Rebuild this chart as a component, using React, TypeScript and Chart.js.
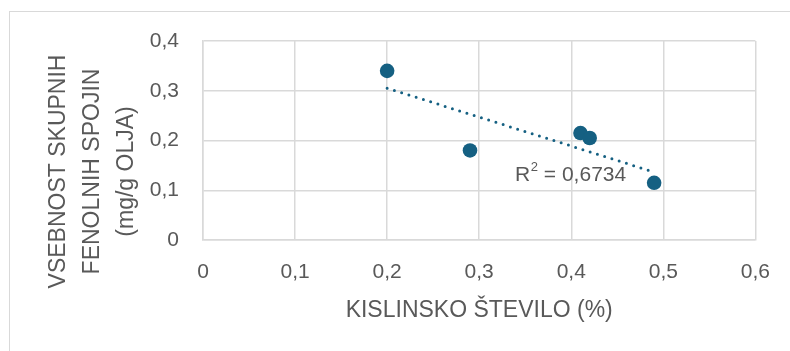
import React, { useEffect, useRef } from "react";
import { Chart, registerables } from "chart.js";

Chart.register(...registerables);

// Data
const acidNumber: number[] = [0.2, 0.29, 0.41, 0.42, 0.49];
const phenolContent: number[] = [0.34, 0.18, 0.215, 0.205, 0.115];
const xTicks: number[] = [0, 0.1, 0.2, 0.3, 0.4, 0.5, 0.6];
const yTicks: number[] = [0, 0.1, 0.2, 0.3, 0.4];
const xTitle = "KISLINSKO ŠTEVILO (%)";
const yTitleLines: string[] = ["VSEBNOST SKUPNIH", "FENOLNIH SPOJIN", "(mg/g OLJA)"];
const r2Label = "0,6734";

const MARK = "#156082";
const TEXT = "#595959";
const GRID = "#d9d9d9";
const FONT = "'Liberation Sans', Arial, sans-serif";

function fmt(v: number): string {
  return String(Math.round(v * 10) / 10).replace(".", ",");
}

function regression(xs: number[], ys: number[]) {
  const n = xs.length;
  const mx = xs.reduce((a, b) => a + b, 0) / n;
  const my = ys.reduce((a, b) => a + b, 0) / n;
  let sxy = 0, sxx = 0;
  for (let i = 0; i < n; i++) {
    sxy += (xs[i] - mx) * (ys[i] - my);
    sxx += (xs[i] - mx) ** 2;
  }
  const slope = sxy / sxx;
  return { slope, intercept: my - slope * mx };
}

export default function App() {
  const ref = useRef<HTMLCanvasElement | null>(null);

  useEffect(() => {
    if (!ref.current) return;
    const { slope, intercept } = regression(acidNumber, phenolContent);
    const x0 = Math.min(...acidNumber);
    const x1 = Math.max(...acidNumber);
    const trend = [
      { x: x0, y: intercept + slope * x0 },
      { x: x1, y: intercept + slope * x1 },
    ];

    const textPlugin = {
      id: "extraText",
      afterDraw(chart: any) {
        const ctx = chart.ctx;
        const area = chart.chartArea;
        // Y-axis title (3 lines, rotated)
        ctx.save();
        ctx.fillStyle = TEXT;
        ctx.font = `23px ${FONT}`;
        ctx.textAlign = "center";
        ctx.textBaseline = "alphabetic";
        const cy = (area.top + area.bottom) / 2 + 31;
        const baselines = [65, 99, 133];
        yTitleLines.forEach((line, i) => {
          ctx.save();
          ctx.translate(baselines[i], cy);
          ctx.rotate(-Math.PI / 2);
          ctx.fillText(line, 0, 0);
          ctx.restore();
        });
        ctx.restore();

        // R² label
        const xs = chart.scales.x;
        const ys = chart.scales.y;
        const lx = xs.getPixelForValue(0.339);
        const ly = ys.getPixelForValue(0.1195);
        ctx.save();
        ctx.fillStyle = TEXT;
        ctx.textAlign = "left";
        ctx.textBaseline = "alphabetic";
        ctx.font = `21px ${FONT}`;
        ctx.fillText("R", lx, ly);
        let cx = lx + ctx.measureText("R").width;
        ctx.font = `13px ${FONT}`;
        ctx.fillText("2", cx + 0.5, ly - 10);
        cx += ctx.measureText("2").width + 0.5;
        ctx.font = `21px ${FONT}`;
        ctx.fillText(" = " + r2Label, cx, ly);
        ctx.restore();
      },
    };

    const chart = new Chart(ref.current, {
      type: "scatter",
      data: {
        datasets: [
          {
            type: "line",
            label: "Trend",
            data: trend,
            borderColor: MARK,
            borderWidth: 3,
            borderDash: [0, 7.6],
            borderCapStyle: "round",
            pointRadius: 0,
            fill: false,
            order: 0,
          } as any,
          {
            label: "Data",
            data: acidNumber.map((x, i) => ({ x, y: phenolContent[i] })),
            backgroundColor: MARK,
            borderColor: MARK,
            borderWidth: 0,
            pointRadius: 7.3,
            order: 1,
          },
        ],
      },
      options: {
        animation: false,
        responsive: false,
        maintainAspectRatio: false,
        layout: { padding: { left: 0, right: 31, top: 41, bottom: 0 } },
        plugins: {
          legend: { display: false },
          tooltip: { enabled: false },
        },
        scales: {
          x: {
            type: "linear",
            min: 0,
            max: 0.6,
            afterBuildTicks: (s: any) => {
              s.ticks = xTicks.map((v) => ({ value: v }));
            },
            afterFit: (s: any) => {
              s.height = 111;
            },
            ticks: {
              color: TEXT,
              font: { family: FONT, size: 21 },
              padding: 20,
              maxRotation: 0,
              callback: (v: any) => fmt(Number(v)),
            },
            grid: { color: GRID, lineWidth: 1.5, drawTicks: false },
            border: { color: GRID, width: 1.5 },
            title: {
              display: true,
              text: xTitle,
              color: TEXT,
              font: { family: FONT, size: 23 },
              padding: { top: 0, bottom: 27 },
            },
          },
          y: {
            type: "linear",
            min: 0,
            max: 0.4,
            afterBuildTicks: (s: any) => {
              s.ticks = yTicks.map((v) => ({ value: v }));
            },
            afterFit: (s: any) => {
              s.width = 203;
            },
            ticks: {
              color: TEXT,
              font: { family: FONT, size: 21 },
              padding: 24,
              callback: (v: any) => fmt(Number(v)),
            },
            grid: { color: GRID, lineWidth: 1.5, drawTicks: false },
            border: { color: GRID, width: 1.5 },
          },
        },
      },
      plugins: [textPlugin],
    });
    return () => chart.destroy();
  }, []);

  return (
    <div
      style={{
        position: "fixed",
        left: 0,
        top: 0,
        width: 790,
        height: 351,
        overflow: "hidden",
        background: "#ffffff",
      }}
    >
      <div
        style={{
          position: "absolute",
          left: 9,
          top: 11,
          width: 900,
          height: 500,
          border: "1px solid #d9d9d9",
          boxSizing: "border-box",
        }}
      />
      <canvas
        ref={ref}
        width={790}
        height={351}
        style={{ position: "absolute", left: 0, top: 0, width: 790, height: 351 }}
      />
    </div>
  );
}
